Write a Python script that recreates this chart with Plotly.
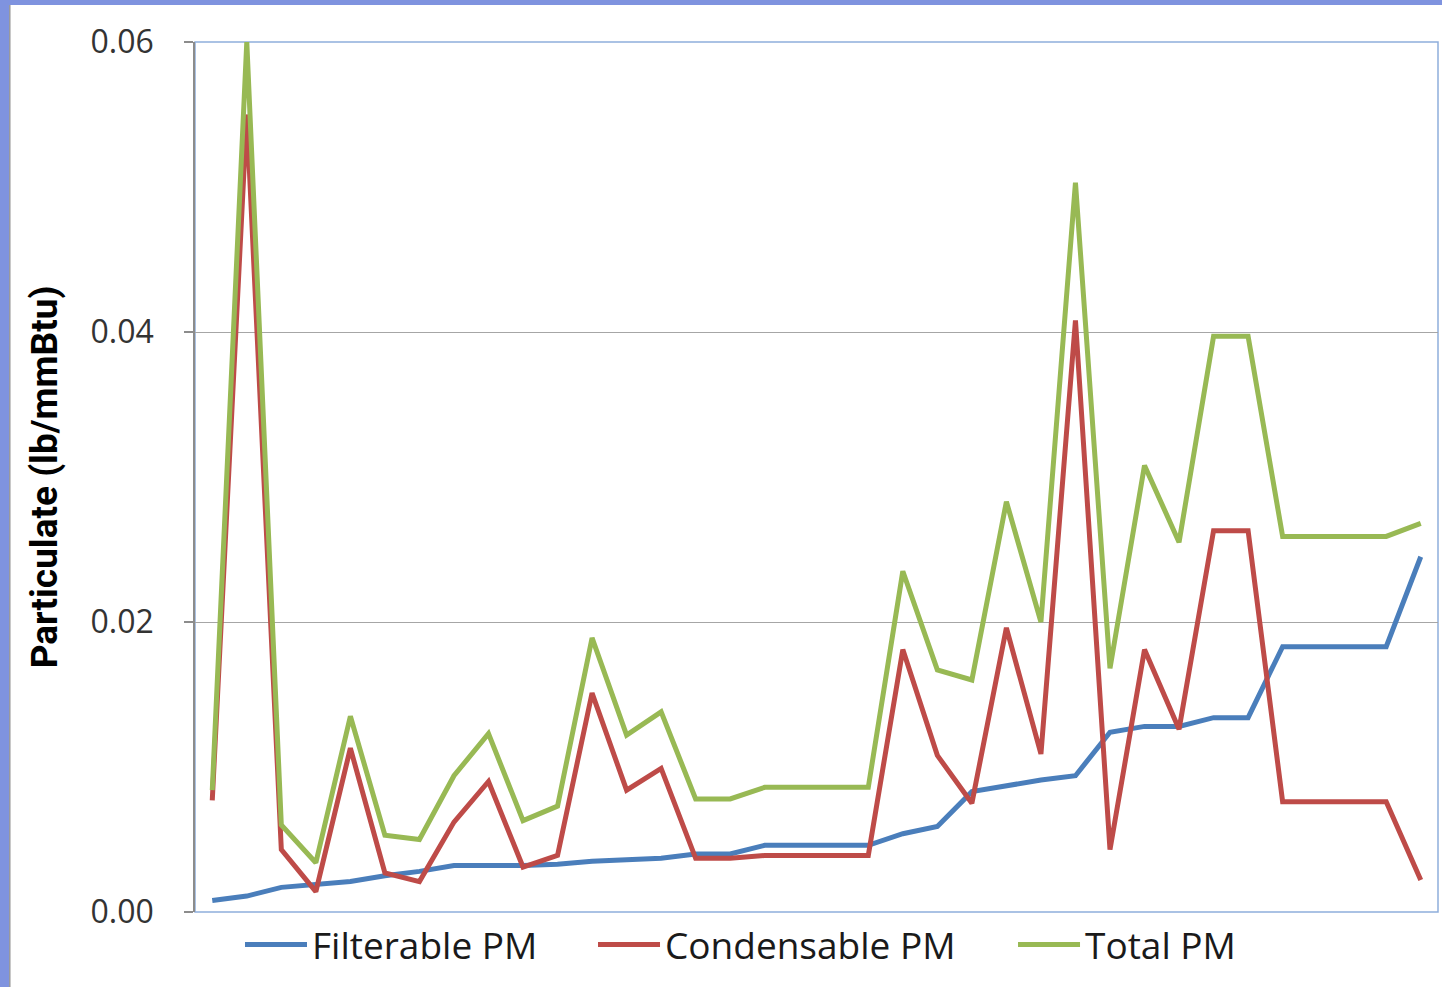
import plotly.graph_objects as go

categories = [1, 2, 3, 4, 5, 6, 7, 8, 9, 10, 11, 12, 13, 14, 15, 16, 17, 18,
              19, 20, 21, 22, 23, 24, 25, 26, 27, 28, 29, 30, 31, 32, 33, 34, 35, 36]

filterable_pm = [0.0008, 0.0011, 0.0017, 0.0019, 0.0021, 0.0025, 0.0028, 0.0032, 0.0032,
                 0.0032, 0.0033, 0.0035, 0.0036, 0.0037, 0.0040, 0.0040, 0.0046, 0.0046,
                 0.0046, 0.0046, 0.0054, 0.0059, 0.0083, 0.0087, 0.0091, 0.0094, 0.0124,
                 0.0128, 0.0128, 0.0134, 0.0134, 0.0183, 0.0183, 0.0183, 0.0183, 0.0245]

condensable_pm = [0.0077, 0.0550, 0.0043, 0.0014, 0.0113, 0.0027, 0.0021, 0.0062, 0.0090,
                  0.0031, 0.0039, 0.0151, 0.0084, 0.0099, 0.0037, 0.0037, 0.0039, 0.0039,
                  0.0039, 0.0039, 0.0181, 0.0108, 0.0075, 0.0196, 0.0109, 0.0408, 0.0043,
                  0.0181, 0.0126, 0.0263, 0.0263, 0.0076, 0.0076, 0.0076, 0.0076, 0.0022]

total_pm = [0.0084, 0.0600, 0.0060, 0.0034, 0.0135, 0.0053, 0.0050, 0.0094, 0.0123,
            0.0063, 0.0073, 0.0189, 0.0122, 0.0138, 0.0078, 0.0078, 0.0086, 0.0086,
            0.0086, 0.0086, 0.0235, 0.0167, 0.0160, 0.0283, 0.0200, 0.0503, 0.0168,
            0.0308, 0.0255, 0.0397, 0.0397, 0.0259, 0.0259, 0.0259, 0.0259, 0.0268]

series_names = ["Filterable PM", "Condensable PM", "Total PM"]
series_colors = ["#4A7EBB", "#BE4B48", "#98B954"]
y_ticks = [0.00, 0.02, 0.04, 0.06]
y_tick_labels = ["0.00", "0.02", "0.04", "0.06"]

legend_ids = ["legend", "legend2", "legend3"]
legend_x = [0.0362, 0.3202, 0.6581]

fig = go.Figure()
for name, vals, col, lg in zip(series_names, [filterable_pm, condensable_pm, total_pm],
                               series_colors, legend_ids):
    fig.add_trace(go.Scatter(
        x=categories, y=vals, mode="lines", name=name,
        line=dict(color=col, width=5, shape="linear"),
        cliponaxis=False,
        legend=lg,
    ))

legend_common = dict(
    orientation="h",
    xanchor="left",
    y=-0.038, yanchor="middle",
    font=dict(family="Open Sans", size=37, color="#1a1a1a"),
    bgcolor="rgba(0,0,0,0)",
    itemwidth=62,
)

fig.update_layout(
    width=1442, height=987,
    margin=dict(l=195, r=4, t=42, b=75),
    paper_bgcolor="#7F93DF",
    plot_bgcolor="white",
    showlegend=True,
    legend=dict(x=legend_x[0], **legend_common),
    legend2=dict(x=legend_x[1], **legend_common),
    legend3=dict(x=legend_x[2], **legend_common),
    shapes=[
        dict(type="rect", xref="paper", yref="paper",
             x0=-0.149, x1=1.01, y0=-0.12, y1=1.0425,
             fillcolor="white", line=dict(width=0), layer="below"),
        dict(type="line", xref="paper", yref="paper",
             x0=-0.149, x1=-0.149, y0=-0.12, y1=1.0425,
             line=dict(color="#9a9a9a", width=1.5), layer="below"),
        dict(type="rect", xref="paper", yref="paper",
             x0=0, x1=1, y0=0, y1=1,
             fillcolor="rgba(0,0,0,0)", line=dict(color="#8EAEDB", width=1.5), layer="below"),
    ],
)

fig.update_xaxes(
    type="linear",
    range=[0.5, 36.5],
    showticklabels=False,
    showgrid=False,
    zeroline=False,
    showline=False,
    ticks="",
)

fig.update_yaxes(
    range=[0, 0.06],
    tickvals=y_ticks,
    ticktext=y_tick_labels,
    showgrid=True,
    gridcolor="#A6A6A6",
    gridwidth=1.3,
    zeroline=False,
    showline=True,
    linecolor="#8C8C8C",
    linewidth=1.5,
    ticks="outside",
    ticklen=9,
    tickcolor="#8C8C8C",
    tickwidth=1.5,
    ticklabelstandoff=24,
    tickfont=dict(family="Open Sans", size=32, color="#333333"),
    title=dict(
        text="<b>Particulate (lb/mmBtu)</b>",
        font=dict(family="Roboto", size=37, color="black"),
        standoff=22,
    ),
)

fig.write_html("out.html", config={"displayModeBar": False},
               post_script="document.body.style.margin='0';")
